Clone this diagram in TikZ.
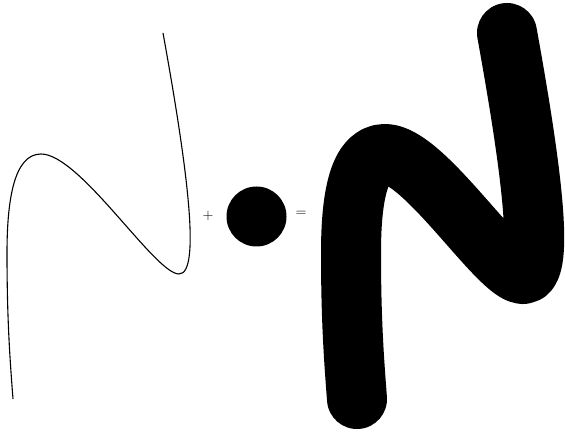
\documentclass[tikz,border=0pt]{standalone}
\begin{document}
\begin{tikzpicture}[x=1pt,y=-1pt,
  thinline/.style={line width=1.1pt},
  thickline/.style={line width=60pt,line cap=round,line join=round},
  sym/.style={inner sep=0pt,font=\fontsize{14}{16}\selectfont}]
\useasboundingbox (0,0) rectangle (565,435);
\def\thecurve{(163,33) .. controls (186,160) and (202,274) .. (179,274)
   .. controls (155,274) and (80,154) .. (41,154)
   .. controls (14,154) and (7,200) .. (7,253)
   .. controls (7,320) and (10,360) .. (13,399)}
\draw[thinline] \thecurve;
\node[sym] (plus) at (208,216) {$+$};
\fill (256.5,216.5) circle[radius=30];
\node[sym] (eq) at (301,214) {$=$};
\begin{scope}[xshift=344pt]
\draw[thickline] \thecurve;
\end{scope}
\end{tikzpicture}
\end{document}
